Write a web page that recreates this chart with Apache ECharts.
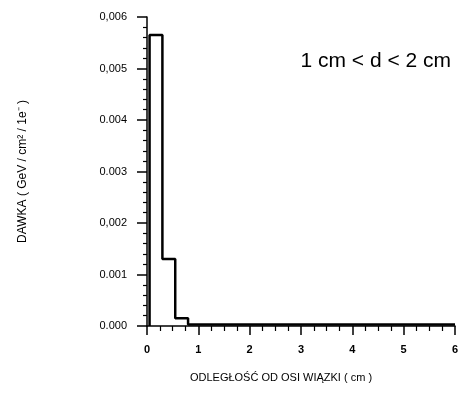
<!DOCTYPE html>
<html>
<head>
<meta charset="utf-8">
<script src="https://cdn.jsdelivr.net/npm/echarts@6/dist/echarts.min.js"></script>
<style>
  html, body { margin: 0; padding: 0; background: #fff; }
  #chart { width: 466px; height: 406px; }
</style>
</head>
<body>
<div id="chart"></div>
<script>
// bin edges (cm) and dose per bin
const binEdges = [0.05, 0.3, 0.55, 0.8, 6.0]
const doseValues = [0.00565, 0.0013, 0.00015, 0.00003]

const yTickLabels = ['0.000', '0.001', '0,002', '0.003', '0.004', '0,005', '0,006']
const xTickLabels = ['0', '1', '2', '3', '4', '5', '6']

// step points built from the bins
function getStepData() {
    var pts = [[binEdges[0], 0]]
    for (var i = 0; i < doseValues.length; i++) {
        pts.push([binEdges[i], doseValues[i]])
    }
    pts.push([binEdges[binEdges.length - 1], doseValues[doseValues.length - 1]])
    return pts
}

const chart = echarts.init(document.getElementById('chart'))
const options = {
    backgroundColor: '#fff',
    animation: false,
    grid: { left: 147, right: 11, top: 17, bottom: 80 },
    title: {
        text: '1 cm < d < 2 cm',
        right: 10,
        top: 46,
        textStyle: { fontFamily: 'Liberation Sans', fontSize: 21, fontWeight: 'normal', color: '#000' }
    },
    xAxis: {
        type: 'value',
        min: 0,
        max: 6,
        interval: 1,
        name: 'ODLEGŁOŚĆ OD OSI WIĄZKI ( cm )',
        nameLocation: 'middle',
        nameGap: 46,
        nameTextStyle: { fontFamily: 'Liberation Sans', fontSize: 11, color: '#000', padding: [0, 40, 0, 0] },
        axisLine: { lineStyle: { color: '#000', width: 1.5 } },
        axisTick: { length: 9, lineStyle: { color: '#000', width: 1.5 } },
        minorTick: { show: true, splitNumber: 4, length: 5, lineStyle: { color: '#000', width: 1.2 } },
        axisLabel: {
            margin: 18,
            fontFamily: 'Liberation Sans',
            fontSize: 11,
            fontWeight: 'bold',
            color: '#000',
            formatter: function (value) {
                return xTickLabels[Math.round(value)]
            }
        },
        splitLine: { show: false }
    },
    yAxis: {
        type: 'value',
        min: 0,
        max: 0.006,
        interval: 0.001,
        name: 'DAWKA ( GeV / cm² / 1e⁻ )',
        nameLocation: 'middle',
        nameGap: 118,
        nameTextStyle: { fontFamily: 'Liberation Sans', fontSize: 12, color: '#000' },
        axisLine: { show: true, lineStyle: { color: '#000', width: 1.5 } },
        axisTick: { show: true, length: 10, lineStyle: { color: '#000', width: 1.5 } },
        minorTick: { show: true, splitNumber: 5, length: 4, lineStyle: { color: '#000', width: 1.2 } },
        axisLabel: {
            margin: 20,
            fontFamily: 'Liberation Sans',
            fontSize: 11,
            color: '#000',
            formatter: function (value) {
                return yTickLabels[Math.round(value * 1000)]
            }
        },
        splitLine: { show: false }
    },
    series: [
        {
            type: 'line',
            step: 'end',
            symbol: 'none',
            lineStyle: { color: '#000', width: 2.5 },
            data: getStepData()
        }
    ]
}
chart.setOption(options)
</script>
</body>
</html>
